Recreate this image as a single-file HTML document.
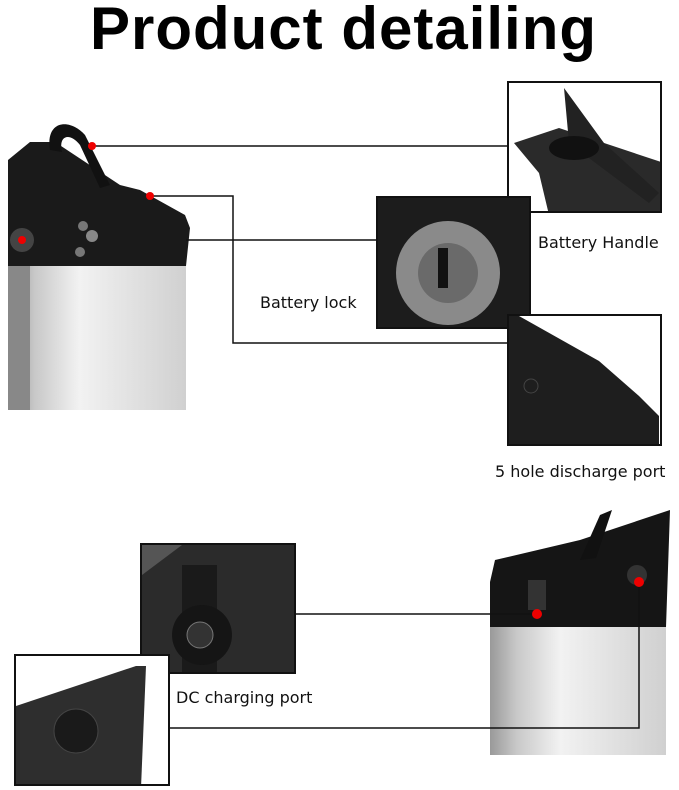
<!DOCTYPE html>
<html><head><style>
body{margin:0;width:679px;height:790px;background:#fff;position:relative;overflow:hidden;font-family:"Liberation Sans",sans-serif}
.a{position:absolute}
.box{position:absolute;border:2px solid #111;box-sizing:border-box;overflow:hidden}
.lbl{position:absolute;font-family:"DejaVu Sans",sans-serif;font-size:16px;color:#111;white-space:nowrap}
</style></head><body>
<div class="a" style="left:0;top:-6px;width:679px;text-align:center;font-size:60px;font-weight:bold;letter-spacing:1px;padding-left:4px">Product detailing</div>

<svg class="a" style="left:0;top:0" width="679" height="790">
<defs>
<linearGradient id="sv" x1="0" x2="1"><stop offset="0" stop-color="#999"/><stop offset="0.15" stop-color="#c8c8c8"/><stop offset="0.4" stop-color="#f2f2f2"/><stop offset="1" stop-color="#d0d0d0"/></linearGradient>
</defs>
<rect x="8" y="266" width="178" height="144" fill="url(#sv)"/>
<rect x="8" y="266" width="22" height="144" fill="#888"/>
<path d="M8,160 L30,142 L55,142 L120,185 L140,190 L185,215 L190,228 L186,266 L8,266 Z" fill="#1a1a1a"/>
<path d="M50,150 C45,120 70,118 85,135 L110,185 L100,188 L80,145 C70,132 58,135 62,152 Z" fill="#111"/>
<circle cx="83" cy="226" r="5" fill="#777"/><circle cx="92" cy="236" r="6" fill="#888"/><circle cx="80" cy="252" r="5" fill="#777"/>
<circle cx="22" cy="240" r="12" fill="#444"/>
<rect x="490" y="627" width="176" height="128" fill="url(#sv)"/>
<path d="M490,582 L495,560 L580,540 L670,510 L666,627 L490,627 Z" fill="#151515"/>
<path d="M580,560 L600,515 L612,510 L596,558 Z" fill="#111"/>
<circle cx="637" cy="575" r="10" fill="#333"/>
<rect x="528" y="580" width="18" height="30" fill="#333"/>
<g stroke="#111" stroke-width="1.5" fill="none">
<path d="M92,146 H507"/>
<path d="M150,196 H233 V343 H507"/>
<path d="M186,240 H376"/>
<path d="M296,614 H537"/>
<path d="M170,728 H639 V582"/>
</g>
<g fill="#e00">
<circle cx="92" cy="146" r="4"/><circle cx="150" cy="196" r="4"/><circle cx="22" cy="240" r="4"/>
<circle cx="537" cy="614" r="5"/><circle cx="639" cy="582" r="5"/>
</g>
</svg>

<div class="box" style="left:507px;top:81px;width:155px;height:132px;background:#fff">
<svg width="155" height="132"><path d="M5,60 L50,45 L155,80 L155,132 L40,132 L30,90 Z" fill="#2a2a2a"/><path d="M55,5 L95,60 L150,110 L140,120 L60,60 Z" fill="#222"/><ellipse cx="65" cy="65" rx="25" ry="12" fill="#111"/></svg>
</div>
<div class="box" style="left:376px;top:196px;width:155px;height:133px;background:#1c1c1c">
<svg width="155" height="133"><circle cx="70" cy="75" r="52" fill="#8a8a8a"/><circle cx="70" cy="75" r="30" fill="#6a6a6a"/><rect x="60" y="50" width="10" height="40" fill="#111"/></svg>
</div>
<div class="box" style="left:507px;top:314px;width:155px;height:132px;background:#fff">
<svg width="155" height="132"><path d="M0,0 L10,0 L90,45 L130,80 L150,100 L150,132 L0,132 Z" fill="#1e1e1e"/><circle cx="22" cy="70" r="7" fill="none" stroke="#444"/></svg>
</div>
<div class="box" style="left:140px;top:543px;width:156px;height:131px;background:#2b2b2b">
<svg width="156" height="131"><path d="M0,30 L40,0 L0,0Z" fill="#555"/><path d="M40,20 H75 V130 H40 Z" fill="#1a1a1a"/><circle cx="60" cy="90" r="30" fill="#151515"/><circle cx="58" cy="90" r="13" fill="#333" stroke="#777"/></svg>
</div>
<div class="box" style="left:14px;top:654px;width:156px;height:132px;background:#fff">
<svg width="156" height="132"><path d="M0,50 L120,10 L130,10 L125,132 L0,132 Z" fill="#2e2e2e"/><circle cx="60" cy="75" r="22" fill="#1a1a1a" stroke="#444"/></svg>
</div>

<div class="lbl" style="left:538px;top:233px">Battery Handle</div>
<div class="lbl" style="left:260px;top:293px">Battery lock</div>
<div class="lbl" style="left:495px;top:462px">5 hole discharge port</div>
<div class="lbl" style="left:176px;top:688px">DC charging port</div>
</body></html>
